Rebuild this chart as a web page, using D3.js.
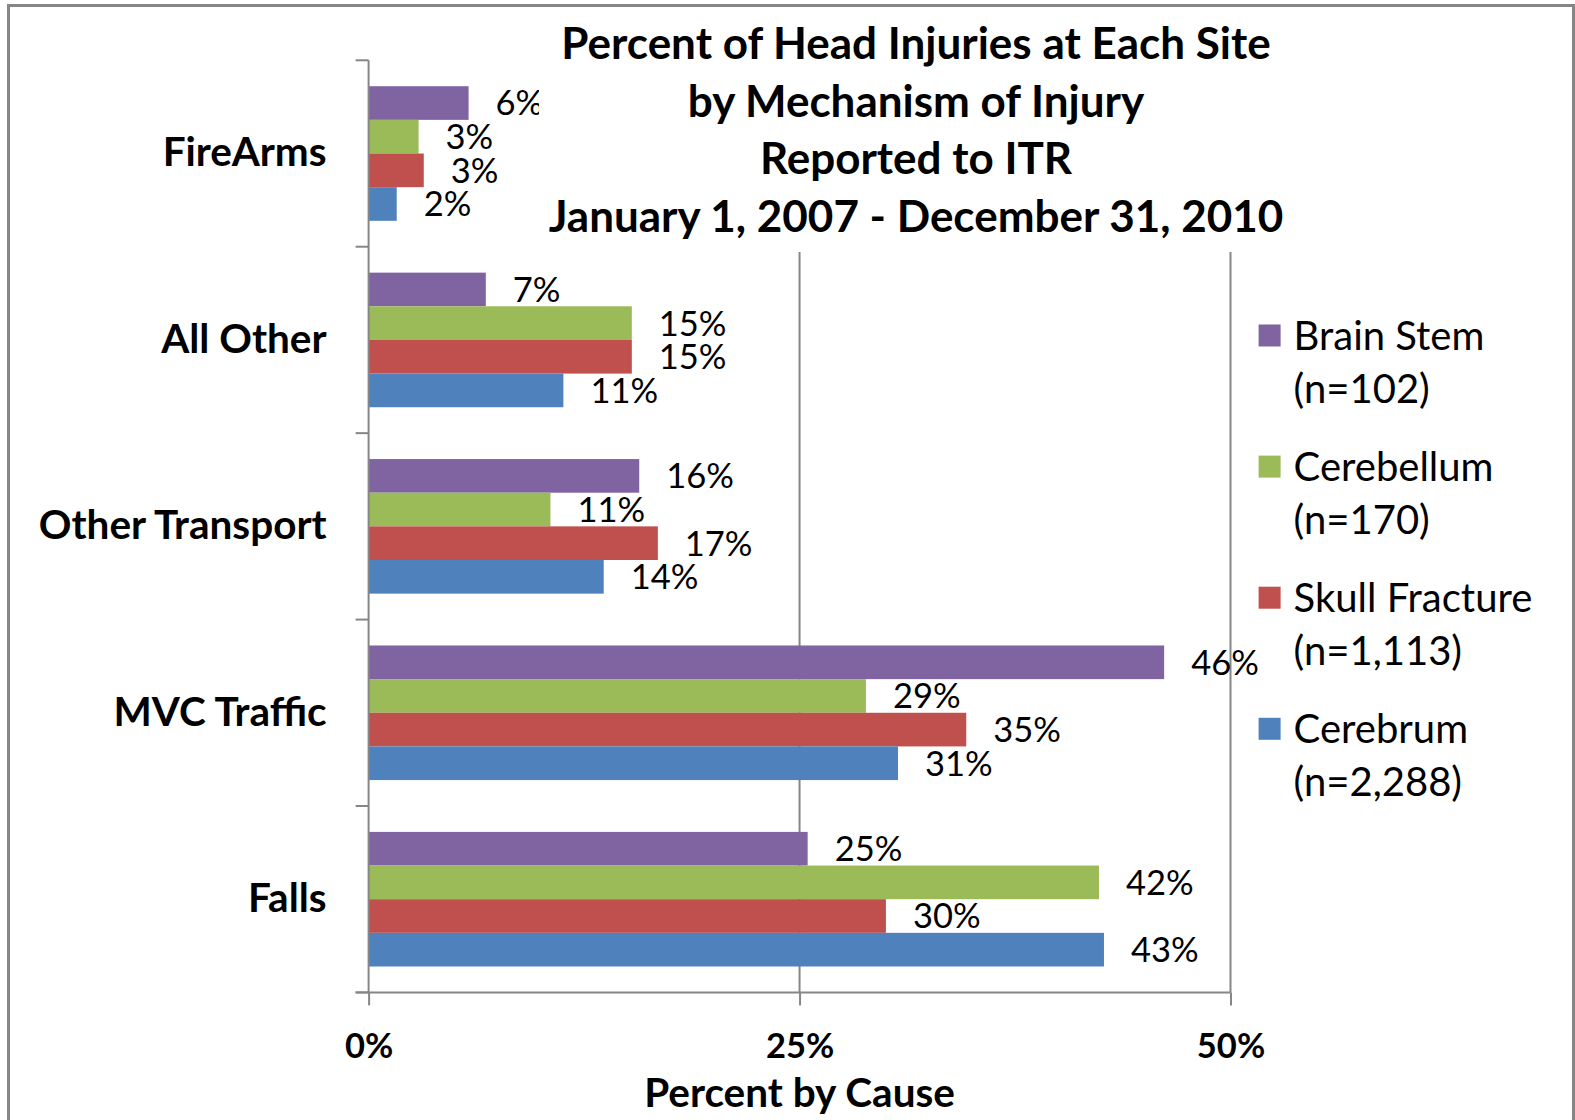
<!DOCTYPE html>
<html>
<head>
<meta charset="utf-8">
<script src="https://cdn.jsdelivr.net/npm/d3@7"></script>
<style>
  body { margin: 0; background: #fff; }
  text { font-family: Lato, "Open Sans", sans-serif; fill: #000; }
</style>
</head>
<body>
<div id="chart"></div>
<script>
// Chart data
const categories = ["FireArms", "All Other", "Other Transport", "MVC Traffic", "Falls"];
const seriesNames = ["Brain Stem", "Cerebellum", "Skull Fracture", "Cerebrum"];
const seriesCounts = ["(n=102)", "(n=170)", "(n=1,113)", "(n=2,288)"];
const seriesColors = ["#8064A2", "#9BBB59", "#C0504D", "#4F81BD"];
const brainStem = [0.058, 0.068, 0.157, 0.4615, 0.2547];
const cerebellum = [0.029, 0.1527, 0.1055, 0.2885, 0.4237];
const skullFracture = [0.032, 0.1527, 0.1678, 0.3467, 0.3001];
const cerebrum = [0.0163, 0.113, 0.1364, 0.3071, 0.4266];
const xTicks = [0, 0.25, 0.5];
const titleLines = [
    "Percent of Head Injuries at Each Site",
    "by Mechanism of Injury",
    "Reported to ITR",
    "January 1, 2007 - December 31, 2010"
];

const values = [brainStem, cerebellum, skullFracture, cerebrum];
const table = categories.map((c, i) => ({
    category: c,
    bars: seriesNames.map((s, j) => ({ series: s, index: j, value: values[j][i] }))
}));

const width = 1575;
const height = 1120;
const plotLeft = 368.6, plotRight = 1230.5, plotTop = 60.3, plotBottom = 992.4;
const gray = "#868686";

const svg = d3.select("#chart")
    .append("svg")
    .attr("width", width)
    .attr("height", height);

// Outer chart border
svg.append("rect")
    .attr("x", 8.5).attr("y", 5.5)
    .attr("width", 1565).attr("height", 1130)
    .attr("fill", "#fff")
    .attr("stroke", gray)
    .attr("stroke-width", 3);

// Scales
const x = d3.scaleLinear().domain([0, 0.5]).range([plotLeft, plotRight]);
const y = d3.scaleBand().domain(categories).range([plotTop, plotBottom])
    .paddingInner(0.278).paddingOuter(0.139);
const ySub = d3.scaleBand().domain(d3.range(seriesNames.length)).range([0, y.bandwidth()]);

// Vertical gridlines
svg.append("g")
    .selectAll("line")
    .data(xTicks.slice(1))
    .enter()
    .append("line")
    .attr("x1", d => x(d)).attr("x2", d => x(d))
    .attr("y1", plotTop).attr("y2", plotBottom)
    .attr("stroke", gray)
    .attr("stroke-width", 2);

// Bars
const groups = svg.append("g")
    .selectAll("g")
    .data(table)
    .enter()
    .append("g")
    .attr("transform", d => `translate(0,${y(d.category)})`);

groups.selectAll("rect")
    .data(d => d.bars)
    .enter()
    .append("rect")
    .attr("x", x(0))
    .attr("y", d => ySub(d.index))
    .attr("width", d => x(d.value) - x(0))
    .attr("height", ySub.bandwidth())
    .attr("fill", d => seriesColors[d.index]);

// Data labels
groups.selectAll("text")
    .data(d => d.bars)
    .enter()
    .append("text")
    .attr("x", d => x(d.value) + 27)
    .attr("y", d => ySub(d.index) + ySub.bandwidth() / 2)
    .attr("dy", "0.36em")
    .attr("font-size", 34.5)
    .text(d => d3.format(".0%")(d.value));

// X axis
const xAxis = svg.append("g")
    .attr("transform", `translate(0,${plotBottom})`)
    .call(d3.axisBottom(x).tickValues(xTicks).tickFormat(d3.format(".0%"))
        .tickSize(13).tickPadding(28));
xAxis.select(".domain").remove();
xAxis.selectAll(".tick line").attr("stroke", gray).attr("stroke-width", 2);
xAxis.selectAll(".tick text")
    .attr("font-size", 34.5)
    .attr("font-weight", "bold")
    .attr("font-family", "Lato")
    .attr("fill", "#000");
svg.append("line")
    .attr("x1", plotLeft - 13).attr("x2", plotRight)
    .attr("y1", plotBottom).attr("y2", plotBottom)
    .attr("stroke", gray).attr("stroke-width", 2);

// Y axis
const yAxis = svg.append("g")
    .attr("transform", `translate(${plotLeft},0)`)
    .call(d3.axisLeft(y).tickSize(0).tickPadding(42));
yAxis.select(".domain").remove();
yAxis.selectAll(".tick text")
    .attr("font-size", 40.5)
    .attr("font-weight", "bold")
    .attr("font-family", "Lato")
    .attr("fill", "#000");
svg.append("line")
    .attr("x1", plotLeft).attr("x2", plotLeft)
    .attr("y1", plotTop).attr("y2", plotBottom)
    .attr("stroke", gray).attr("stroke-width", 2);
const boundaries = categories.map(c => y(c) - y.step() * 0.139).concat([plotBottom]);
svg.append("g")
    .selectAll("line")
    .data(boundaries)
    .enter()
    .append("line")
    .attr("x1", plotLeft - 13).attr("x2", plotLeft)
    .attr("y1", d => d).attr("y2", d => d)
    .attr("stroke", gray).attr("stroke-width", 2);

// Axis title
svg.append("text")
    .attr("x", (plotLeft + plotRight) / 2)
    .attr("y", 1107)
    .attr("text-anchor", "middle")
    .attr("font-size", 40.5)
    .attr("font-weight", "bold")
    .text("Percent by Cause");

// Chart title (white box hides the gridlines and the label behind it)
svg.append("rect")
    .attr("x", 539).attr("y", 14)
    .attr("width", 755).attr("height", 238)
    .attr("fill", "#fff");
svg.append("g")
    .selectAll("text")
    .data(titleLines)
    .enter()
    .append("text")
    .attr("x", 916)
    .attr("y", (d, i) => 59 + i * 57.5)
    .attr("text-anchor", "middle")
    .attr("font-size", 44)
    .attr("font-weight", "bold")
    .text(d => d);

// Legend
const legend = svg.append("g")
    .selectAll("g")
    .data(seriesNames)
    .enter()
    .append("g")
    .attr("transform", (d, i) => `translate(1258.6,${335.5 + i * 131.1})`);
legend.append("rect")
    .attr("x", 0).attr("y", -11)
    .attr("width", 22).attr("height", 22)
    .attr("fill", (d, i) => seriesColors[i]);
legend.append("text")
    .attr("x", 35).attr("y", 0)
    .attr("dy", "0.36em")
    .attr("font-size", 40)
    .text(d => d);
legend.append("text")
    .attr("x", 35).attr("y", 53.2)
    .attr("dy", "0.36em")
    .attr("font-size", 40)
    .text((d, i) => seriesCounts[i]);
</script>
</body>
</html>
